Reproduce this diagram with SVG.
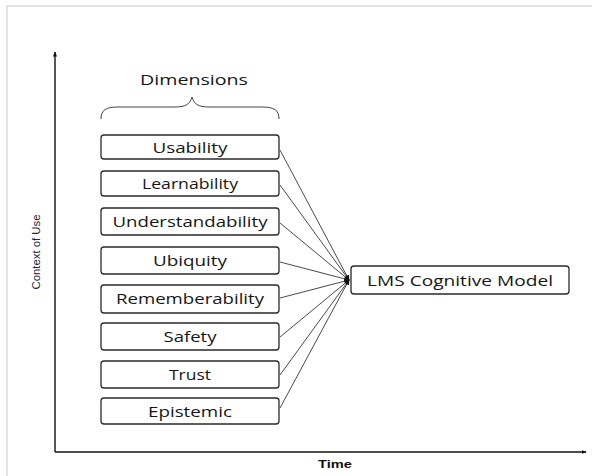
<svg xmlns="http://www.w3.org/2000/svg" width="592" height="476" viewBox="0 0 592 476">
  <defs>
    <marker id="axisHead" viewBox="0 0 10 10" refX="9" refY="5" markerWidth="5" markerHeight="5" orient="auto" markerUnits="userSpaceOnUse">
      <path d="M0,1 L10,5 L0,9 Z" fill="#111"/>
    </marker>
    <marker id="linkHead" viewBox="0 0 10 10" refX="9" refY="5" markerWidth="7" markerHeight="5" orient="auto" markerUnits="userSpaceOnUse">
      <path d="M0,0 L10,5 L0,10 Z" fill="#111"/>
    </marker>
    <style>
      .frame { stroke: #dcdcdc; stroke-width: 1.5; fill: none; }
      .axis { stroke: #111; stroke-width: 1.4; fill: none; marker-end: url(#axisHead); }
      .box { fill: #fff; stroke: #2a2a2a; stroke-width: 1.3; }
      .label { font-family: "Open Sans", "Liberation Sans", sans-serif; font-size: 15px; fill: #161616; text-anchor: middle; }
      .link { stroke: #2a2a2a; stroke-width: 0.85; fill: none; marker-end: url(#linkHead); }
      .brace { stroke: #444; stroke-width: 1; fill: none; }
      .axisLabel { font-family: "Liberation Sans", Arial, sans-serif; font-size: 11px; text-anchor: middle; }
    </style>
  </defs>

  <rect width="592" height="476" fill="#fff"/>
  <!-- outer page frame -->
  <path class="frame" d="M7,476 L7,6 L592,6"/>

  <!-- axes -->
  <g id="axes">
    <line class="axis" x1="55" y1="452" x2="55" y2="52"/>
    <line class="axis" x1="55" y1="452" x2="586" y2="452"/>
    <text class="axisLabel" x="335" y="468" font-weight="bold" fill="#111" textLength="34" lengthAdjust="spacingAndGlyphs">Time</text>
    <text class="axisLabel" transform="translate(39.5,252) rotate(-90)" fill="#1c2540" textLength="75" lengthAdjust="spacingAndGlyphs">Context of Use</text>
  </g>

  <!-- dimensions heading and brace -->
  <g id="dimensions">
    <text class="label" x="194" y="85" textLength="108" lengthAdjust="spacingAndGlyphs">Dimensions</text>
    <path class="brace" d="M101,119 C101,110 106,107 118,107 L175,107 C186,107 190,104 192,97 C194,104 198,107 209,107 L262,107 C274,107 279,110 279,119"/>
  </g>

  <!-- connectors -->
  <g id="connectors">
    <line class="link" x1="280" y1="150" x2="349" y2="280"/>
    <line class="link" x1="280" y1="185" x2="349" y2="280"/>
    <line class="link" x1="280" y1="223" x2="349" y2="280"/>
    <line class="link" x1="280" y1="262" x2="349" y2="280"/>
    <line class="link" x1="280" y1="298" x2="349" y2="280"/>
    <line class="link" x1="280" y1="337" x2="349" y2="280"/>
    <line class="link" x1="280" y1="375" x2="349" y2="280"/>
    <line class="link" x1="280" y1="408" x2="349" y2="280"/>
  </g>

  <g id="usability">
    <rect class="box" x="101" y="135" width="178" height="24" rx="3"/>
    <text class="label" x="190" y="152.5" textLength="75" lengthAdjust="spacingAndGlyphs">Usability</text>
  </g>
  <g id="learnability">
    <rect class="box" x="101" y="171" width="178" height="25" rx="3"/>
    <text class="label" x="190" y="189" textLength="96" lengthAdjust="spacingAndGlyphs">Learnability</text>
  </g>
  <g id="understandability">
    <rect class="box" x="101" y="208" width="178" height="27" rx="3"/>
    <text class="label" x="190" y="227" textLength="155" lengthAdjust="spacingAndGlyphs">Understandability</text>
  </g>
  <g id="ubiquity">
    <rect class="box" x="101" y="247" width="178" height="27" rx="3"/>
    <text class="label" x="190" y="266" textLength="74" lengthAdjust="spacingAndGlyphs">Ubiquity</text>
  </g>
  <g id="rememberability">
    <rect class="box" x="101" y="285" width="178" height="28" rx="3"/>
    <text class="label" x="190" y="304" textLength="148" lengthAdjust="spacingAndGlyphs">Rememberability</text>
  </g>
  <g id="safety">
    <rect class="box" x="101" y="323" width="178" height="27" rx="3"/>
    <text class="label" x="190" y="342" textLength="53" lengthAdjust="spacingAndGlyphs">Safety</text>
  </g>
  <g id="trust">
    <rect class="box" x="101" y="361" width="178" height="27" rx="3"/>
    <text class="label" x="190" y="380" textLength="42" lengthAdjust="spacingAndGlyphs">Trust</text>
  </g>
  <g id="epistemic">
    <rect class="box" x="101" y="398" width="178" height="26" rx="3"/>
    <text class="label" x="190" y="416.5" textLength="84" lengthAdjust="spacingAndGlyphs">Epistemic</text>
  </g>

  <g id="lms-model">
    <rect class="box" x="351" y="266" width="218" height="28" rx="3"/>
    <text class="label" x="460" y="285.5" textLength="186" lengthAdjust="spacingAndGlyphs">LMS Cognitive Model</text>
  </g>
</svg>
